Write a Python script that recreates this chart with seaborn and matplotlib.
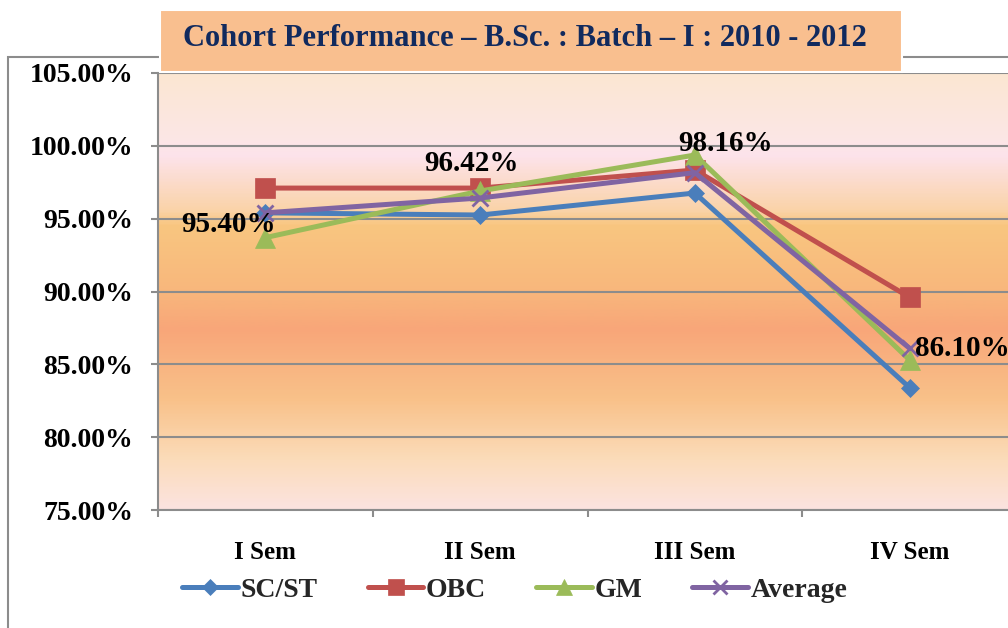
import numpy as np
import pandas as pd
import matplotlib
matplotlib.use("Agg")
import matplotlib.pyplot as plt
import matplotlib.ticker as mticker
from matplotlib.colors import LinearSegmentedColormap
from matplotlib.patches import Rectangle
import seaborn as sns

# ---------------- data ----------------
semesters = ["I Sem", "II Sem", "III Sem", "IV Sem"]
sc_st = [95.40, 95.25, 96.76, 83.40]
obc = [97.10, 97.10, 98.34, 89.60]
gm = [93.70, 96.90, 99.37, 85.30]
average = [95.40, 96.42, 98.16, 86.10]
series_names = ["SC/ST", "OBC", "GM", "Average"]
y_ticks = [75, 80, 85, 90, 95, 100, 105]
title_text = "Cohort Performance \u2013 B.Sc. : Batch \u2013 I : 2010 - 2012"

# ---------------- style ----------------
sns.set_theme(style="white")
plt.rcParams["font.family"] = ["Liberation Serif", "DejaVu Serif"]
plt.rcParams["font.weight"] = "bold"

colors = {"SC/ST": "#4A7EBB", "OBC": "#C0504D", "GM": "#9BBB59", "Average": "#8064A2"}
markers = {"SC/ST": "D", "OBC": "s", "GM": "^", "Average": "x"}
msizes = {"SC/ST": 9.5, "OBC": 14, "GM": 15, "Average": 12}

xpos = np.arange(len(semesters))
frames = []
for name, vals in zip(series_names, [sc_st, obc, gm, average]):
    frames.append(pd.DataFrame({"x": xpos, "value": vals, "series": name}))
df = pd.concat(frames, ignore_index=True)

fig = plt.figure(figsize=(10.08, 6.28), dpi=100)

# outer chart border
fig.patches.append(Rectangle((8 / 1008, -0.05), 1.2, 1 - 57 / 628 + 0.05,
                             transform=fig.transFigure, facecolor="none",
                             edgecolor="#8C8C8C", lw=1.5, zorder=0))

ax = fig.add_axes([158 / 1008, 1 - 510 / 628, 859 / 1008, 437 / 628])
ax.set_zorder(2)
ax.set_xlim(-0.5, 3.5)
ax.set_ylim(75, 105)

# gradient background
grad_cmap = LinearSegmentedColormap.from_list("bg", [
    (0.00, "#FCE3E0"),
    (0.113, "#FBDCBA"),
    (0.253, "#F9C189"),
    (0.413, "#F8A679"),
    (0.503, "#F8B77C"),
    (0.653, "#F9C680"),
    (0.687, "#FAD3A8"),
    (0.813, "#FDE3EB"),
    (0.847, "#FCE6E6"),
    (1.00, "#FBE7D2"),
])
grad = np.linspace(0, 1, 400).reshape(-1, 1)
ax.imshow(grad, aspect="auto", cmap=grad_cmap, origin="lower",
          extent=(-0.5, 3.5, 75, 105), zorder=0)

for name in series_names:
    sub = df[df["series"] == name]
    sns.lineplot(data=sub, x="x", y="value", ax=ax, color=colors[name],
                 marker=markers[name], markersize=msizes[name],
                 markeredgecolor=colors[name],
                 markeredgewidth=2 if name == "Average" else 0.5,
                 linewidth=3.6, label=name, zorder=3, legend=False)

# grid
ax.set_yticks(y_ticks)
ax.yaxis.grid(True, color="#8C8C8C", lw=1.5)
ax.set_axisbelow(False)
for gl in ax.get_ygridlines():
    gl.set_zorder(1)
ax.xaxis.grid(False)

ax.yaxis.set_major_formatter(mticker.PercentFormatter(xmax=100, decimals=2))
ax.set_xticks(xpos)
ax.set_xticklabels(semesters)
ax.set_xticks(np.arange(-0.5, 4.0, 1.0), minor=True)
ax.tick_params(axis="x", which="major", length=0, pad=22, labelsize=18)
ax.tick_params(axis="x", which="minor", length=5, width=1.5, color="#8C8C8C", direction="out", bottom=True)
ax.tick_params(axis="y", which="major", length=5, width=1.5, color="#8C8C8C",
               direction="out", pad=13, labelsize=20, left=True)
for lab in ax.get_xticklabels() + ax.get_yticklabels():
    lab.set_fontweight("bold")
    lab.set_color("black")
ax.set_xlabel("")
ax.set_ylabel("")

for side in ["top", "right"]:
    ax.spines[side].set_visible(False)
for side in ["left", "bottom"]:
    ax.spines[side].set_color("#8C8C8C")
    ax.spines[side].set_linewidth(1.5)
    ax.spines[side].set_zorder(4)

# data labels on Average
label_offsets = [(-37, -12, "center"), (-9, 34, "center"), (31, 29, "center"), (5, 0, "left")]
for xi, v, (dx, dy, ha) in zip(xpos, average, label_offsets):
    ax.annotate(f"{v:.2f}%", (xi, v), xytext=(dx, dy), textcoords="offset pixels",
                ha=ha, va="center", fontsize=21, fontweight="bold", color="black",
                zorder=5, annotation_clip=False)

# legend
handles, labels = ax.get_legend_handles_labels()
leg = fig.legend(handles, labels, loc="center", bbox_to_anchor=(515 / 1008, 1 - 590 / 628),
                 ncol=4, frameon=False, handlelength=2.0,
                 handletextpad=0.1, columnspacing=1.8, prop={"weight": "bold", "size": 20})
leg_ms = {"SC/ST": 8, "OBC": 11, "GM": 11, "Average": 10}
for h, name in zip(leg.legend_handles, labels):
    h.set_markersize(leg_ms[name])

# title box
fig.patches.append(Rectangle((160 / 1008, 1 - 72 / 628), 742 / 1008, 62 / 628,
                             transform=fig.transFigure, facecolor="#F9BF8F",
                             edgecolor="white", lw=1.5, zorder=5))
fig.text(183 / 1008, 1 - 39 / 628, title_text, ha="left", va="center",
         fontsize=22, fontweight="bold", color="#112A5E", zorder=6)

fig.savefig("out.png", dpi=100)
